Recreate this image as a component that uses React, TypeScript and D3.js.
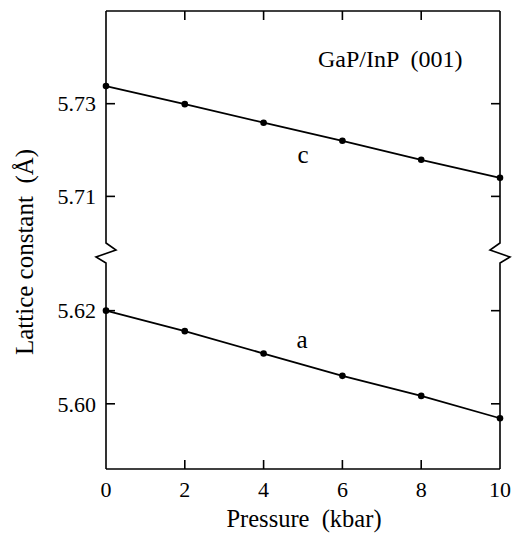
import React from 'react';
import * as d3 from 'd3';

// pressure (kbar) and lattice constants (Å)
const pressure = [0, 2, 4, 6, 8, 10];
const cVals = [5.7338, 5.7299, 5.7259, 5.722, 5.7179, 5.714];
const aVals = [5.62, 5.6156, 5.6108, 5.606, 5.6017, 5.5969];
const xTicks = [0, 2, 4, 6, 8, 10];
const upperTicks = [5.71, 5.73];
const lowerTicks = [5.6, 5.62];

const W = 514, H = 535;
const left = 106, right = 500, top = 11, bottom = 469;
const brk = 252; // where the two y segments meet
const font = "'Liberation Serif', 'Times New Roman', Times, serif";

const App = () => {
  const x = d3.scaleLinear().domain([0, 10]).range([left, right]);
  const yUp = d3.scaleLinear().domain([5.698, 5.75]).range([brk, top]);
  const yLo = d3.scaleLinear().domain([5.586, 5.6326]).range([bottom, brk]);

  const lineUp = d3.line<number>().x((d, i) => x(pressure[i])).y(d => yUp(d));
  const lineLo = d3.line<number>().x((d, i) => x(pressure[i])).y(d => yLo(d));

  // axis with a zigzag break, dir = +1 for left side, -1 for right
  const breakPath = (x0: number, dir: number) =>
    `M${x0},${top}V${brk - 9}L${x0 + 10 * dir},${brk - 2}L${x0 - 10 * dir},${brk + 5}L${x0},${brk + 11}V${bottom}`;

  const tk = 9;

  return (
    <svg width={W} height={H} style={{position: 'absolute', left: 0, top: 0, fontFamily: font}}>
      <rect width={W} height={H} fill="#fff" />
      <g stroke="#000" strokeWidth={1.6} fill="none">
        <path d={breakPath(left, 1)} />
        <path d={breakPath(right, -1)} />
        <line x1={left} x2={right} y1={top} y2={top} />
        <line x1={left} x2={right} y1={bottom} y2={bottom} />
        {xTicks.slice(1, -1).map(t => (
          <g key={t}>
            <line x1={x(t)} x2={x(t)} y1={top} y2={top + tk} />
            <line x1={x(t)} x2={x(t)} y1={bottom} y2={bottom - tk} />
          </g>
        ))}
        {upperTicks.map(t => (
          <g key={t}>
            <line x1={left} x2={left + tk} y1={yUp(t)} y2={yUp(t)} />
            <line x1={right} x2={right - tk} y1={yUp(t)} y2={yUp(t)} />
          </g>
        ))}
        {lowerTicks.map(t => (
          <g key={t}>
            <line x1={left} x2={left + tk} y1={yLo(t)} y2={yLo(t)} />
            <line x1={right} x2={right - tk} y1={yLo(t)} y2={yLo(t)} />
          </g>
        ))}
        <path d={lineUp(cVals) || ''} strokeWidth={1.8} />
        <path d={lineLo(aVals) || ''} strokeWidth={1.8} />
      </g>
      {cVals.map((d, i) => <circle key={'c' + i} cx={x(pressure[i])} cy={yUp(d)} r={3.3} fill="#000" />)}
      {aVals.map((d, i) => <circle key={'a' + i} cx={x(pressure[i])} cy={yLo(d)} r={3.3} fill="#000" />)}

      <g fill="#000" style={{fontFamily: font, fontSize: 22}}>
        {upperTicks.map(t => (
          <text key={t} x={96} y={yUp(t)} dy="0.35em" textAnchor="end">{d3.format('.2f')(t)}</text>
        ))}
        {lowerTicks.map(t => (
          <text key={t} x={96} y={yLo(t)} dy="0.35em" textAnchor="end">{d3.format('.2f')(t)}</text>
        ))}
        {xTicks.map(t => (
          <text key={t} x={x(t)} y={497} textAnchor="middle">{t}</text>
        ))}
        <text x={304} y={527} textAnchor="middle" style={{whiteSpace: 'pre', fontSize: 24.5}}>Pressure  (kbar)</text>
        <text transform={`translate(33,252) rotate(-90)`} textAnchor="middle" style={{whiteSpace: 'pre', fontSize: 25}}>Lattice constant  (Å)</text>
        <text x={318} y={67} style={{whiteSpace: 'pre', fontSize: 24}}>GaP/InP  (001)</text>
        <text x={303} y={163} textAnchor="middle" style={{fontSize: 25}}>c</text>
        <text x={302} y={348} textAnchor="middle" style={{fontSize: 25}}>a</text>
      </g>
    </svg>
  );
};

export default App;
